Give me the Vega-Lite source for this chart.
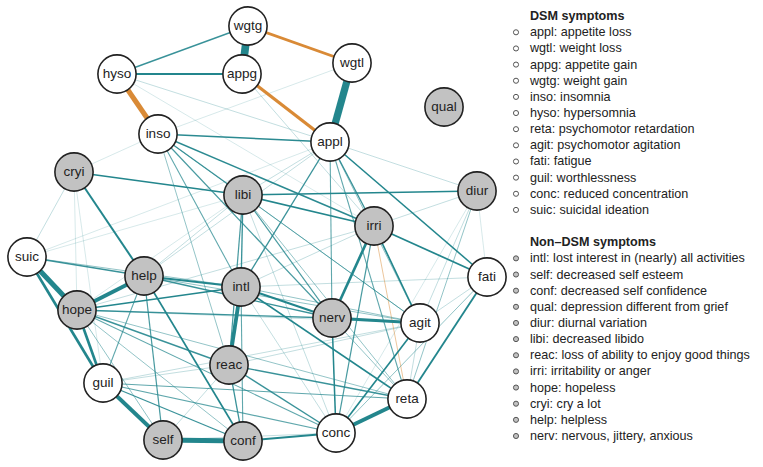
{
  "$schema": "https://vega.github.io/schema/vega-lite/v6.json",
  "padding": 0,
  "autosize": {"type": "pad"},
  "bounds": "flush",
  "spacing": 0,
  "config": {"view": {"stroke": null}, "font": "Liberation Sans"},
  "datasets": {
    "nodes": [
      {"id": "wgtg", "x": 248, "y": 26, "group": "DSM"},
      {"id": "appg", "x": 242, "y": 74, "group": "DSM"},
      {"id": "hyso", "x": 117, "y": 74, "group": "DSM"},
      {"id": "wgtl", "x": 352, "y": 63, "group": "DSM"},
      {"id": "qual", "x": 444, "y": 107, "group": "Non-DSM"},
      {"id": "inso", "x": 158, "y": 134, "group": "DSM"},
      {"id": "appl", "x": 330, "y": 142, "group": "DSM"},
      {"id": "cryi", "x": 74, "y": 172, "group": "Non-DSM"},
      {"id": "libi", "x": 243, "y": 195, "group": "Non-DSM"},
      {"id": "diur", "x": 477, "y": 191, "group": "Non-DSM"},
      {"id": "irri", "x": 374, "y": 226, "group": "Non-DSM"},
      {"id": "suic", "x": 27, "y": 257, "group": "DSM"},
      {"id": "help", "x": 144, "y": 276, "group": "Non-DSM"},
      {"id": "intl", "x": 241, "y": 287, "group": "Non-DSM"},
      {"id": "fati", "x": 487, "y": 277, "group": "DSM"},
      {"id": "hope", "x": 77, "y": 310, "group": "Non-DSM"},
      {"id": "nerv", "x": 332, "y": 318, "group": "Non-DSM"},
      {"id": "agit", "x": 420, "y": 323, "group": "DSM"},
      {"id": "reac", "x": 229, "y": 365, "group": "Non-DSM"},
      {"id": "guil", "x": 103, "y": 383, "group": "DSM"},
      {"id": "reta", "x": 407, "y": 399, "group": "DSM"},
      {"id": "conc", "x": 336, "y": 433, "group": "DSM"},
      {"id": "self", "x": 163, "y": 440, "group": "Non-DSM"},
      {"id": "conf", "x": 243, "y": 441, "group": "Non-DSM"}
    ],
    "edges": [
      {"a": "wgtg", "b": "appg", "w": 0.88, "sign": "pos"},
      {"a": "wgtl", "b": "appl", "w": 0.85, "sign": "pos"},
      {"a": "wgtg", "b": "wgtl", "w": 0.5, "sign": "neg"},
      {"a": "appg", "b": "appl", "w": 0.55, "sign": "neg"},
      {"a": "hyso", "b": "inso", "w": 0.7, "sign": "neg"},
      {"a": "hyso", "b": "wgtg", "w": 0.3, "sign": "pos"},
      {"a": "hyso", "b": "appg", "w": 0.38, "sign": "pos"},
      {"a": "hyso", "b": "appl", "w": 0.15, "sign": "pos"},
      {"a": "hyso", "b": "irri", "w": 0.12, "sign": "pos"},
      {"a": "appg", "b": "irri", "w": 0.15, "sign": "pos"},
      {"a": "wgtl", "b": "inso", "w": 0.12, "sign": "pos"},
      {"a": "inso", "b": "appl", "w": 0.32, "sign": "pos"},
      {"a": "inso", "b": "cryi", "w": 0.12, "sign": "pos"},
      {"a": "inso", "b": "irri", "w": 0.32, "sign": "pos"},
      {"a": "inso", "b": "libi", "w": 0.28, "sign": "pos"},
      {"a": "inso", "b": "intl", "w": 0.25, "sign": "pos"},
      {"a": "inso", "b": "nerv", "w": 0.28, "sign": "pos"},
      {"a": "inso", "b": "reac", "w": 0.2, "sign": "pos"},
      {"a": "inso", "b": "agit", "w": 0.2, "sign": "pos"},
      {"a": "cryi", "b": "libi", "w": 0.33, "sign": "pos"},
      {"a": "cryi", "b": "help", "w": 0.4, "sign": "pos"},
      {"a": "cryi", "b": "suic", "w": 0.15, "sign": "pos"},
      {"a": "cryi", "b": "hope", "w": 0.12, "sign": "pos"},
      {"a": "cryi", "b": "guil", "w": 0.12, "sign": "pos"},
      {"a": "suic", "b": "appl", "w": 0.12, "sign": "pos"},
      {"a": "appl", "b": "libi", "w": 0.15, "sign": "pos"},
      {"a": "appl", "b": "diur", "w": 0.15, "sign": "pos"},
      {"a": "appl", "b": "intl", "w": 0.3, "sign": "pos"},
      {"a": "appl", "b": "nerv", "w": 0.25, "sign": "pos"},
      {"a": "appl", "b": "irri", "w": 0.3, "sign": "pos"},
      {"a": "appl", "b": "reta", "w": 0.25, "sign": "pos"},
      {"a": "appl", "b": "fati", "w": 0.33, "sign": "pos"},
      {"a": "appl", "b": "help", "w": 0.15, "sign": "pos"},
      {"a": "appl", "b": "agit", "w": 0.2, "sign": "pos"},
      {"a": "libi", "b": "diur", "w": 0.33, "sign": "pos"},
      {"a": "libi", "b": "irri", "w": 0.33, "sign": "pos"},
      {"a": "libi", "b": "intl", "w": 0.3, "sign": "pos"},
      {"a": "libi", "b": "reac", "w": 0.28, "sign": "pos"},
      {"a": "libi", "b": "nerv", "w": 0.28, "sign": "pos"},
      {"a": "libi", "b": "agit", "w": 0.22, "sign": "pos"},
      {"a": "libi", "b": "reta", "w": 0.2, "sign": "pos"},
      {"a": "libi", "b": "conc", "w": 0.15, "sign": "pos"},
      {"a": "libi", "b": "help", "w": 0.15, "sign": "pos"},
      {"a": "libi", "b": "hope", "w": 0.12, "sign": "pos"},
      {"a": "libi", "b": "suic", "w": 0.12, "sign": "pos"},
      {"a": "diur", "b": "irri", "w": 0.15, "sign": "pos"},
      {"a": "diur", "b": "agit", "w": 0.15, "sign": "pos"},
      {"a": "diur", "b": "reta", "w": 0.2, "sign": "pos"},
      {"a": "diur", "b": "fati", "w": 0.12, "sign": "pos"},
      {"a": "diur", "b": "conc", "w": 0.12, "sign": "pos"},
      {"a": "irri", "b": "nerv", "w": 0.48, "sign": "pos"},
      {"a": "irri", "b": "agit", "w": 0.35, "sign": "pos"},
      {"a": "irri", "b": "reta", "w": 0.2, "sign": "neg"},
      {"a": "irri", "b": "conc", "w": 0.28, "sign": "pos"},
      {"a": "irri", "b": "fati", "w": 0.36, "sign": "pos"},
      {"a": "irri", "b": "hope", "w": 0.15, "sign": "pos"},
      {"a": "irri", "b": "intl", "w": 0.15, "sign": "pos"},
      {"a": "suic", "b": "hope", "w": 0.7, "sign": "pos"},
      {"a": "suic", "b": "guil", "w": 0.48, "sign": "pos"},
      {"a": "suic", "b": "help", "w": 0.3, "sign": "pos"},
      {"a": "suic", "b": "intl", "w": 0.2, "sign": "pos"},
      {"a": "intl", "b": "fati", "w": 0.15, "sign": "pos"},
      {"a": "help", "b": "hope", "w": 0.6, "sign": "pos"},
      {"a": "help", "b": "intl", "w": 0.38, "sign": "pos"},
      {"a": "help", "b": "nerv", "w": 0.3, "sign": "pos"},
      {"a": "help", "b": "conf", "w": 0.35, "sign": "pos"},
      {"a": "help", "b": "self", "w": 0.28, "sign": "pos"},
      {"a": "help", "b": "guil", "w": 0.25, "sign": "pos"},
      {"a": "help", "b": "agit", "w": 0.2, "sign": "pos"},
      {"a": "hope", "b": "intl", "w": 0.33, "sign": "pos"},
      {"a": "hope", "b": "nerv", "w": 0.3, "sign": "pos"},
      {"a": "hope", "b": "guil", "w": 0.48, "sign": "pos"},
      {"a": "hope", "b": "self", "w": 0.2, "sign": "pos"},
      {"a": "hope", "b": "conf", "w": 0.2, "sign": "pos"},
      {"a": "hope", "b": "reac", "w": 0.3, "sign": "pos"},
      {"a": "hope", "b": "conc", "w": 0.25, "sign": "pos"},
      {"a": "hope", "b": "reta", "w": 0.2, "sign": "pos"},
      {"a": "hope", "b": "agit", "w": 0.15, "sign": "pos"},
      {"a": "intl", "b": "reac", "w": 0.6, "sign": "pos"},
      {"a": "intl", "b": "nerv", "w": 0.42, "sign": "pos"},
      {"a": "intl", "b": "agit", "w": 0.2, "sign": "pos"},
      {"a": "intl", "b": "reta", "w": 0.33, "sign": "pos"},
      {"a": "intl", "b": "conf", "w": 0.25, "sign": "pos"},
      {"a": "intl", "b": "conc", "w": 0.15, "sign": "pos"},
      {"a": "nerv", "b": "agit", "w": 0.52, "sign": "pos"},
      {"a": "nerv", "b": "conc", "w": 0.33, "sign": "pos"},
      {"a": "nerv", "b": "reta", "w": 0.2, "sign": "pos"},
      {"a": "agit", "b": "conc", "w": 0.35, "sign": "pos"},
      {"a": "agit", "b": "reta", "w": 0.15, "sign": "pos"},
      {"a": "agit", "b": "reac", "w": 0.15, "sign": "pos"},
      {"a": "agit", "b": "guil", "w": 0.15, "sign": "pos"},
      {"a": "fati", "b": "reta", "w": 0.38, "sign": "pos"},
      {"a": "fati", "b": "conc", "w": 0.2, "sign": "pos"},
      {"a": "fati", "b": "agit", "w": 0.15, "sign": "pos"},
      {"a": "reac", "b": "conf", "w": 0.3, "sign": "pos"},
      {"a": "reac", "b": "conc", "w": 0.3, "sign": "pos"},
      {"a": "reac", "b": "reta", "w": 0.3, "sign": "pos"},
      {"a": "reac", "b": "guil", "w": 0.15, "sign": "pos"},
      {"a": "reac", "b": "self", "w": 0.15, "sign": "pos"},
      {"a": "guil", "b": "self", "w": 0.6, "sign": "pos"},
      {"a": "guil", "b": "conf", "w": 0.3, "sign": "pos"},
      {"a": "guil", "b": "conc", "w": 0.25, "sign": "pos"},
      {"a": "guil", "b": "reta", "w": 0.25, "sign": "pos"},
      {"a": "self", "b": "conf", "w": 0.68, "sign": "pos"},
      {"a": "self", "b": "conc", "w": 0.15, "sign": "pos"},
      {"a": "conf", "b": "conc", "w": 0.4, "sign": "pos"},
      {"a": "conc", "b": "reta", "w": 0.6, "sign": "pos"}
    ],
    "legend": [
      {"i": 0, "label": "DSM symptoms", "kind": "header", "group": "DSM"},
      {"i": 1, "label": "appl: appetite loss", "kind": "item", "group": "DSM"},
      {"i": 2, "label": "wgtl: weight loss", "kind": "item", "group": "DSM"},
      {"i": 3, "label": "appg: appetite gain", "kind": "item", "group": "DSM"},
      {"i": 4, "label": "wgtg: weight gain", "kind": "item", "group": "DSM"},
      {"i": 5, "label": "inso: insomnia", "kind": "item", "group": "DSM"},
      {"i": 6, "label": "hyso: hypersomnia", "kind": "item", "group": "DSM"},
      {"i": 7, "label": "reta: psychomotor retardation", "kind": "item", "group": "DSM"},
      {"i": 8, "label": "agit: psychomotor agitation", "kind": "item", "group": "DSM"},
      {"i": 9, "label": "fati: fatigue", "kind": "item", "group": "DSM"},
      {"i": 10, "label": "guil: worthlessness", "kind": "item", "group": "DSM"},
      {"i": 11, "label": "conc: reduced concentration", "kind": "item", "group": "DSM"},
      {"i": 12, "label": "suic: suicidal ideation", "kind": "item", "group": "DSM"},
      {"i": 14, "label": "Non–DSM symptoms", "kind": "header", "group": "Non-DSM"},
      {"i": 15, "label": "intl: lost interest in (nearly) all activities", "kind": "item", "group": "Non-DSM"},
      {"i": 16, "label": "self: decreased self esteem", "kind": "item", "group": "Non-DSM"},
      {"i": 17, "label": "conf: decreased self confidence", "kind": "item", "group": "Non-DSM"},
      {"i": 18, "label": "qual: depression different from grief", "kind": "item", "group": "Non-DSM"},
      {"i": 19, "label": "diur: diurnal variation", "kind": "item", "group": "Non-DSM"},
      {"i": 20, "label": "libi: decreased libido", "kind": "item", "group": "Non-DSM"},
      {"i": 21, "label": "reac: loss of ability to enjoy good things", "kind": "item", "group": "Non-DSM"},
      {"i": 22, "label": "irri: irritability or anger", "kind": "item", "group": "Non-DSM"},
      {"i": 23, "label": "hope: hopeless", "kind": "item", "group": "Non-DSM"},
      {"i": 24, "label": "cryi: cry a lot", "kind": "item", "group": "Non-DSM"},
      {"i": 25, "label": "help: helpless", "kind": "item", "group": "Non-DSM"},
      {"i": 26, "label": "nerv: nervous, jittery, anxious", "kind": "item", "group": "Non-DSM"}
    ]
  },
  "hconcat": [
    {
      "width": 500,
      "height": 467,
      "layer": [
        {
          "data": {"name": "edges"},
          "transform": [
            {"lookup": "a", "from": {"data": {"name": "nodes"}, "key": "id", "fields": ["x", "y"]}, "as": ["x1", "y1"]},
            {"lookup": "b", "from": {"data": {"name": "nodes"}, "key": "id", "fields": ["x", "y"]}, "as": ["x2", "y2"]}
          ],
          "mark": {"type": "rule", "strokeCap": "butt"},
          "encoding": {
            "x": {"field": "x1", "type": "quantitative", "scale": {"domain": [0, 500], "nice": false, "zero": false}, "axis": null},
            "y": {"field": "y1", "type": "quantitative", "scale": {"domain": [0, 467], "nice": false, "zero": false, "reverse": true}, "axis": null},
            "x2": {"field": "x2"},
            "y2": {"field": "y2"},
            "color": {"field": "sign", "type": "nominal", "scale": {"domain": ["pos", "neg"], "range": ["#23868d", "#d98a36"]}, "legend": null},
            "strokeWidth": {"field": "w", "type": "quantitative", "scale": {"type": "pow", "exponent": 2, "domain": [0.1, 0.9], "range": [0.6, 8], "zero": false}, "legend": null},
            "opacity": {"field": "w", "type": "quantitative", "scale": {"domain": [0.1, 0.33], "range": [0.22, 1], "clamp": true, "zero": false}, "legend": null},
            "order": {"field": "w", "type": "quantitative"}
          }
        },
        {
          "data": {"name": "nodes"},
          "mark": {"type": "point", "filled": true, "size": 1460, "stroke": "#222222", "strokeWidth": 1.6, "opacity": 1},
          "encoding": {
            "x": {"field": "x", "type": "quantitative"},
            "y": {"field": "y", "type": "quantitative"},
            "fill": {"field": "group", "type": "nominal", "scale": {"domain": ["DSM", "Non-DSM"], "range": ["#ffffff", "#c2c2c2"]}, "legend": null}
          }
        },
        {
          "data": {"name": "nodes"},
          "mark": {"type": "text", "fontSize": 13.5, "color": "#222222", "baseline": "middle", "align": "center"},
          "encoding": {
            "x": {"field": "x", "type": "quantitative"},
            "y": {"field": "y", "type": "quantitative"},
            "text": {"field": "id"}
          }
        }
      ]
    },
    {
      "width": 263,
      "height": 467,
      "data": {"name": "legend"},
      "layer": [
        {
          "transform": [{"filter": "datum.kind === 'item'"}],
          "mark": {"type": "point", "filled": true, "size": 26, "stroke": "#555555", "strokeWidth": 1, "opacity": 1},
          "encoding": {
            "x": {"datum": 0, "type": "quantitative", "scale": {"domain": [-16, 247], "nice": false, "zero": false}, "axis": null},
            "y": {"field": "i", "type": "quantitative", "scale": {"domain": [-1, 27.92], "nice": false, "zero": false, "reverse": true}, "axis": null},
            "fill": {"field": "group", "type": "nominal", "scale": {"domain": ["DSM", "Non-DSM"], "range": ["#ffffff", "#c2c2c2"]}, "legend": null}
          }
        },
        {
          "transform": [{"filter": "datum.kind === 'item'"}],
          "mark": {"type": "text", "fontSize": 12.6, "color": "#222222", "baseline": "middle", "align": "left", "dx": 14},
          "encoding": {
            "x": {"datum": 0, "type": "quantitative"},
            "y": {"field": "i", "type": "quantitative"},
            "text": {"field": "label"}
          }
        },
        {
          "transform": [{"filter": "datum.kind === 'header'"}],
          "mark": {"type": "text", "fontSize": 12.6, "fontWeight": "bold", "color": "#222222", "baseline": "middle", "align": "left", "dx": 14},
          "encoding": {
            "x": {"datum": 0, "type": "quantitative"},
            "y": {"field": "i", "type": "quantitative"},
            "text": {"field": "label"}
          }
        }
      ]
    }
  ]
}
